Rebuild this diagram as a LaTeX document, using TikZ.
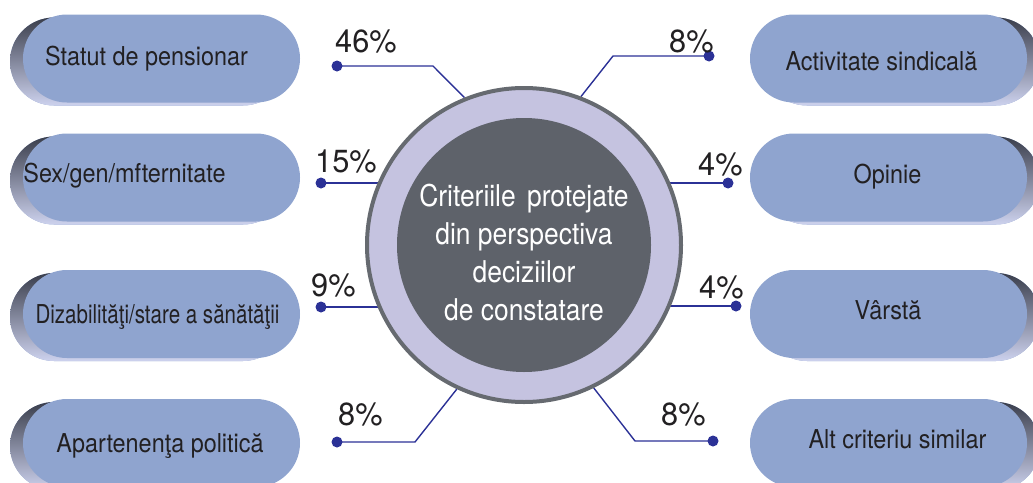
\documentclass[tikz,border=0pt]{standalone}
\usepackage{fontspec}
\setmainfont{TeX Gyre Heros}[FakeStretch=0.9]
\newfontfamily\pctfont{TeX Gyre Heros}[FakeStretch=0.96]
\newfontfamily\hubfont{TeX Gyre Heros}[FakeStretch=0.88]
\newfontfamily\tightfont{TeX Gyre Heros}[FakeStretch=0.79]
\usepackage{tikz}
\usetikzlibrary{positioning,shapes.misc,shadows,backgrounds}
\usepackage{xcolor}

\definecolor{pillblue}{RGB}{143,164,207}
\definecolor{hubgray}{RGB}{94,98,106}
\definecolor{ringlav}{RGB}{197,195,224}
\definecolor{ringedge}{RGB}{102,106,112}
\definecolor{linkblue}{RGB}{43,49,150}
\definecolor{shadetop}{RGB}{58,62,76}
\definecolor{shademid}{RGB}{132,150,196}
\definecolor{shadebot}{RGB}{205,210,238}
\definecolor{inkdark}{RGB}{34,32,34}

\begin{document}
\begin{tikzpicture}[x=1pt, y=-1pt,
  pill/.style={rounded rectangle, fill=pillblue, minimum width=277pt,
               minimum height=88pt, inner sep=0pt},
  lshade/.style={copy shadow={shadow xshift=-13pt, shadow yshift=-3pt,
               top color=shadetop, middle color=shademid,
               bottom color=shadebot, draw=none}},
  rshade/.style={copy shadow={shadow xshift=13pt, shadow yshift=-3pt,
               top color=shadetop, middle color=shademid,
               bottom color=shadebot, draw=none}},
  pilltext/.style={anchor=base, inner sep=0pt, text=inkdark,
               font=\fontsize{26}{30}\selectfont},
  pct/.style={anchor=base west, inner sep=0pt, text=inkdark,
               font=\pctfont\fontsize{32}{36}\selectfont},
  dot/.style={circle, fill=linkblue, minimum size=11pt, inner sep=0pt},
  link/.style={draw=linkblue, line width=1.4pt},
]
  \useasboundingbox (0,0) rectangle (1033,482);

  % criteria, left column
  \node[pill, lshade] (pensionar) at (161.5,58.5) {};
  \node[pill, lshade] (gen)       at (161.5,177.5) {};
  \node[pill, lshade] (sanatate)  at (161.5,314) {};
  \node[pill, lshade] (politica)  at (161.5,443) {};
  \node[pilltext] at (146.5,65) {Statut de pensionar};
  \node[pilltext] at (124.5,182) {Sex/gen/mfternitate};
  \node[pilltext, font=\tightfont\fontsize{26}{30}\selectfont] at (157.5,323) {Dizabilităţi/stare a sănătăţii};
  \node[pilltext] at (160,452) {Apartenenţa politică};

  % criteria, right column
  \node[pill, rshade] (sindicala) at (888.5,58.5) {};
  \node[pill, rshade] (opinie)    at (888.5,177.5) {};
  \node[pill, rshade] (varsta)    at (888.5,314) {};
  \node[pill, rshade] (similar)   at (888.5,443) {};
  \node[pilltext] at (881.5,70) {Activitate sindicală};
  \node[pilltext] at (887.5,183) {Opinie};
  \node[pilltext] at (888,319) {Vârstă};
  \node[pilltext] at (897.5,448) {Alt criteriu similar};

  % centre
  \node[circle, draw=ringedge, line width=4pt, fill=ringlav,
        minimum size=314pt] (ring) at (524,245) {};
  \node[circle, fill=hubgray, minimum size=254pt, inner sep=0pt] (hub) at (ring) {};
  \node[align=center, text=white, font=\hubfont\fontsize{30}{38}\selectfont]
        (hubtext) at ([yshift=-8pt]hub.center)
        {Criteriile\hspace{4pt} protejate\\din perspectiva\\deciziilor\\de constatare};

  % shares
  \node[dot] (dpensionar) at (337,66) {};
  \node[dot] (dgen)       at (321,183) {};
  \node[dot] (dsanatate)  at (321,307) {};
  \node[dot] (dpolitica)  at (337,442) {};
  \node[dot] (dsindicala) at (709,56) {};
  \node[dot] (dopinie)    at (728,183) {};
  \node[dot] (dvarsta)    at (736,306) {};
  \node[dot] (dsimilar)   at (713,441) {};

  \node[pct] at (335,52) {46\%};
  \node[pct] at (315,172) {15\%};
  \node[pct] at (311,296) {9\%};
  \node[pct] at (338,425) {8\%};
  \node[pct] at (669,52) {8\%};
  \node[pct] at (698,175) {4\%};
  \node[pct] at (699,298) {4\%};
  \node[pct] at (661,425) {8\%};

  \begin{scope}[on background layer]
    \draw[link] (dpensionar.center) -- ++(96,0) -- (ring.112);
    \draw[link] (dgen.center) -- (dgen -| ring.center);
    \draw[link] (dsanatate.center) -- (dsanatate -| ring.center);
    \draw[link] (dpolitica.center) -- ++(78,0) -- (ring.245);
    \draw[link] (dsindicala.center) -- ++(-96,0) -- (ring.69);
    \draw[link] (dopinie.center) -- (dopinie -| ring.center);
    \draw[link] (dvarsta.center) -- (dvarsta -| ring.center);
    \draw[link] (dsimilar.center) -- ++(-78,0) -- (ring.296);
  \end{scope}
\end{tikzpicture}
\end{document}
